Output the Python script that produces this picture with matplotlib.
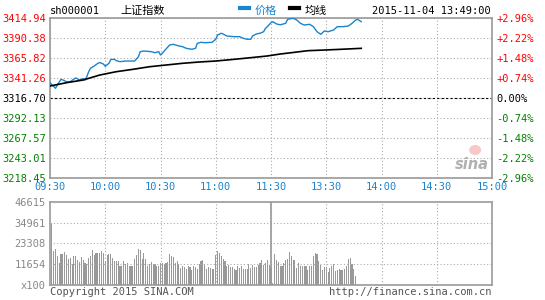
import numpy as np
import matplotlib
matplotlib.use("Agg")
import matplotlib.pyplot as plt
from matplotlib.patches import Ellipse

# price axis labels (left) and change labels (right)
price_ticks = [3218.45, 3243.01, 3267.57, 3292.13, 3316.70, 3341.26, 3365.82, 3390.38, 3414.94]
pct_labels = ["-2.96%", "-2.22%", "-1.48%", "-0.74%", "0.00%", "+0.74%", "+1.48%", "+2.22%", "+2.96%"]
prev_close = 3316.70

# time axis (minutes from 09:30, lunch break collapsed)
time_ticks = [0, 30, 60, 90, 120, 150, 180, 210, 240]
time_labels = ["09:30", "10:00", "10:30", "11:00", "11:30", "13:30", "14:00", "14:30", "15:00"]

# price line (minute, price)
price_min = [0, 3, 4, 6, 7, 9, 11, 13, 14, 16, 18, 19, 20, 21, 22, 24, 26, 27, 29, 30,
             32, 33, 35, 36, 38, 41, 46, 48, 49, 51, 55, 57, 59, 60, 61, 63, 65, 67, 70,
             72, 74, 77, 79, 80, 82, 84, 88, 90, 91, 93, 94, 96, 100, 103, 105, 107, 109,
             110, 112, 114, 116, 117, 118, 120, 121, 123, 125, 128, 129, 132, 134, 136,
             138, 141, 143, 145, 147, 149, 151, 154, 156, 159, 162, 164, 166, 167, 169]
price_val = [3335.5, 3328.6, 3332.7, 3339.7, 3338.8, 3336.7, 3336.7, 3340.0, 3341.3, 3338.8,
             3340.6, 3338.8, 3342.9, 3349.0, 3353.2, 3356.0, 3359.3, 3360.3, 3358.4, 3355.6,
             3359.3, 3364.0, 3364.2, 3362.5, 3361.3, 3362.1, 3362.1, 3367.4, 3373.6, 3374.4,
             3373.6, 3372.3, 3373.6, 3369.5, 3371.6, 3376.9, 3381.8, 3382.6, 3380.6, 3379.7,
             3377.7, 3376.5, 3377.7, 3383.9, 3385.1, 3384.6, 3385.1, 3388.8, 3394.1, 3396.2,
             3395.3, 3392.8, 3392.0, 3392.0, 3390.0, 3388.8, 3388.8, 3392.8, 3395.3, 3396.2,
             3398.1, 3402.3, 3404.3, 3409.2, 3410.4, 3407.6, 3406.6, 3408.4, 3413.3, 3414.6,
             3412.5, 3408.4, 3406.3, 3407.2, 3404.3, 3398.1, 3394.9, 3399.0, 3398.1, 3400.2,
             3404.3, 3404.3, 3405.1, 3408.4, 3412.5, 3413.3, 3410.4]

# average line
avg_min = [0, 9, 18, 27, 36, 45, 54, 63, 72, 81, 90, 100, 109, 118, 125, 131, 140, 149, 158, 169]
avg_val = [3331.4, 3335.5, 3338.8, 3344.9, 3349.0, 3351.9, 3355.1, 3357.2, 3359.3, 3360.9,
           3362.1, 3364.2, 3366.2, 3368.3, 3370.7, 3372.3, 3374.8, 3375.6, 3376.5, 3377.7]

# volume (x100 shares), one bar per minute
vol_ticks = [11654, 23308, 34961, 46615]
volume = [34700, 18900, 20400, 16100, 12400, 17400, 17400, 18500, 17000, 14800,
          15200, 12000, 16500, 16500, 14200, 12900, 15900, 14200, 12400, 11800,
          15200, 16500, 19800, 17000, 18000, 18000, 18000, 19300, 18000, 13700,
          17000, 17400, 17400, 15200, 13700, 13700, 13700, 10900, 10900, 13700,
          11800, 12400, 10900, 10900, 10900, 14800, 17000, 20400, 19800, 14800,
          18000, 14800, 10900, 11800, 12900, 11800, 11800, 10500, 10500, 12400,
          12400, 12000, 12400, 13000, 17600, 16100, 15500, 12400, 13300, 12000,
          9600, 10900, 9900, 9200, 10500, 9900, 8600, 10500, 9900, 9200,
          11800, 13300, 14200, 11800, 9200, 9900, 9600, 9200, 9200, 17000,
          18900, 18100, 16100, 14800, 13300, 10500, 11000, 9900, 9900, 9200,
          8600, 10500, 9600, 10500, 9200, 9200, 9200, 11800, 9600, 11000,
          9900, 9900, 11000, 12400, 14200, 11000, 12400, 14200, 11000, 9900,
          1200, 17600, 13900, 12700, 10900, 10900, 12400, 13900, 14600, 18700,
          16100, 14200, 13900, 9600, 12400, 10900, 10500, 10500, 10900, 8600,
          10900, 10900, 16100, 17900, 17600, 13700, 11400, 8600, 10100, 10100,
          7300, 9600, 10900, 12000, 7700, 8600, 9000, 8300, 8300, 9000,
          10500, 14600, 15200, 12000, 9000, 5300]

mono = "DejaVu Sans Mono"
cjk = ["Noto Sans CJK SC", "DejaVu Sans"]
grid_c = "#aaaaaa"
frame_c = "#999999"
blue = "#1a84cf"
red = "#ff0000"
green = "#008000"
fs = 7.5

fig = plt.figure(figsize=(5.45, 3.0), dpi=100)
ax = fig.add_axes([50 / 545, 1 - 178 / 300, 442 / 545, 160 / 300])
axv = fig.add_axes([50 / 545, 1 - 285 / 300, 442 / 545, 83 / 300])

# --- price panel ---
ax.plot(price_min, price_val, color=blue, lw=1.0, zorder=3)
ax.plot(avg_min, avg_val, color="black", lw=1.2, zorder=3)
ax.axhline(prev_close, color="black", lw=0.8, ls=(0, (2, 2)), zorder=2)
ax.set_xlim(0, 240)
ax.set_ylim(price_ticks[0], price_ticks[-1])
ax.set_xticks(time_ticks)
ax.set_xticklabels(time_labels, family=mono, fontsize=fs, color=blue)
ax.set_yticks(price_ticks)
ax.set_yticklabels(["%.2f" % p for p in price_ticks], family=mono, fontsize=fs)
for lbl, p in zip(ax.get_yticklabels(), price_ticks):
    lbl.set_color(red if p > prev_close else (green if p < prev_close else "black"))
ax.tick_params(length=0, pad=3)
ax.grid(True, color=grid_c, ls=(0, (1, 2)), lw=0.8)
for s in ax.spines.values():
    s.set_color(frame_c)
    s.set_linewidth(1.2)

ax2 = ax.twinx()
ax2.set_ylim(price_ticks[0], price_ticks[-1])
ax2.set_yticks(price_ticks)
ax2.set_yticklabels(pct_labels, family=mono, fontsize=fs)
for lbl, p in zip(ax2.get_yticklabels(), price_ticks):
    lbl.set_color(red if p > prev_close else (green if p < prev_close else "black"))
ax2.tick_params(length=0, pad=3)
for s in ax2.spines.values():
    s.set_visible(False)

# --- volume panel ---
axv.bar(np.arange(len(volume)) + 1, volume, width=0.6, color="#999999", zorder=2)
axv.set_xlim(0, 240)
axv.set_ylim(0, vol_ticks[-1])
axv.set_xticks(time_ticks)
axv.set_xticklabels([])
axv.set_yticks([0] + vol_ticks)
axv.set_yticklabels(["x100"] + [str(v) for v in vol_ticks], family=mono, fontsize=fs, color="#888888")
axv.tick_params(length=0, pad=3)
axv.grid(True, color=grid_c, ls=(0, (1, 2)), lw=0.8, zorder=3)
axv.set_axisbelow(False)
axv.axvline(120, color=frame_c, lw=1.2, zorder=4)
for s in axv.spines.values():
    s.set_color(frame_c)
    s.set_linewidth(1.2)

# --- header ---
fig.text(50 / 545, 1 - 11 / 300, "sh000001", family=mono, fontsize=fs, va="center")
fig.text(120 / 545, 1 - 11 / 300, "上证指数", family=cjk, fontsize=8, va="center")
fig.add_artist(plt.Line2D([240 / 545, 249 / 545], [1 - 8 / 300] * 2, color=blue, lw=3))
fig.text(255 / 545, 1 - 11 / 300, "价格", family=cjk, fontsize=8, va="center", color=blue)
fig.add_artist(plt.Line2D([290 / 545, 299 / 545], [1 - 8 / 300] * 2, color="black", lw=3))
fig.text(305 / 545, 1 - 11 / 300, "均线", family=cjk, fontsize=8, va="center")
fig.text(491 / 545, 1 - 11 / 300, "2015-11-04 13:49:00", family=mono, fontsize=fs,
         va="center", ha="right")

# --- footer ---
fig.text(50 / 545, 1 - 292 / 300, "Copyright 2015 SINA.COM", family=mono, fontsize=fs,
         va="center", color="#555555")
fig.text(491 / 545, 1 - 292 / 300, "http://finance.sina.com.cn", family=mono, fontsize=fs,
         va="center", ha="right", color="#555555")

# watermark
ax.text(0.955, 0.085, "sina", transform=ax.transAxes, fontsize=10.5, style="italic",
        weight="bold", color="#b0b0b0", ha="center", va="center", zorder=1)
ax.add_patch(Ellipse((0.962, 0.175), 12 / 442, 10 / 160, transform=ax.transAxes,
                     facecolor="#f8c8c8", edgecolor="none", zorder=0))

fig.savefig("out.png", dpi=100)
